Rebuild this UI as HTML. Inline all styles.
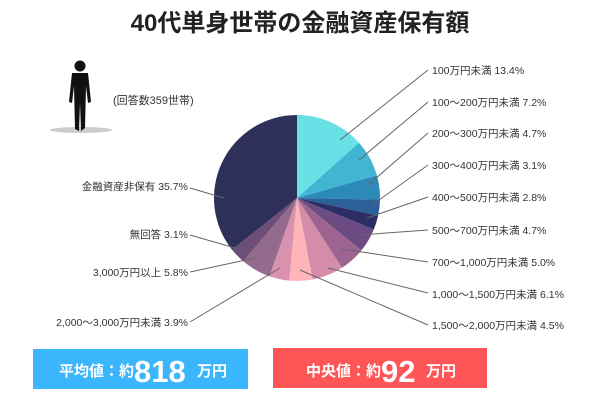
<!DOCTYPE html>
<html><head><meta charset="utf-8"><style>
body{margin:0;width:600px;height:400px;background:#fff;overflow:hidden;font-family:"Liberation Sans","Noto Sans CJK JP",sans-serif}
</style></head><body>
<svg width="600" height="400" viewBox="0 0 600 400" xmlns="http://www.w3.org/2000/svg" font-family="Liberation Sans, Noto Sans CJK JP, sans-serif">
<text x="300" y="31" text-anchor="middle" font-size="24" font-weight="bold" fill="#222">40代単身世帯の金融資産保有額</text>
<ellipse cx="81" cy="130" rx="31" ry="3" fill="#ccc"/>
<g fill="#111">
<circle cx="80" cy="66" r="5.5"/>
<path d="M72 73 L88 73 L91 102 L88 103 L86 86 L85 128 L81 131 L80 103 L79 131 L75 129 L74 86 L72 103 L69 102 Z"/>
</g>
<text x="113" y="104" font-size="11" fill="#333">(回答数359世帯)</text>
<g id="pie"></g>
<g stroke="#666" stroke-width="1">
<line x1="340" y1="140" x2="428" y2="70"/>
<line x1="359" y1="160" x2="428" y2="102"/>
<line x1="367" y1="186" x2="428" y2="133"/>
<line x1="372" y1="205" x2="428" y2="165"/>
<line x1="367" y1="218" x2="428" y2="197"/>
<line x1="359" y1="235" x2="428" y2="230"/>
<line x1="342" y1="249" x2="428" y2="262"/>
<line x1="328" y1="268" x2="428" y2="293"/>
<line x1="300" y1="270" x2="428" y2="325"/>
<line x1="280" y1="268" x2="190" y2="322"/>
<line x1="255" y1="258" x2="190" y2="272"/>
<line x1="235" y1="248" x2="190" y2="235"/>
<line x1="224" y1="198" x2="190" y2="188"/>
</g>
<g font-size="10.5" fill="#333" font-family="Liberation Sans Narrow, Liberation Sans, Noto Sans CJK JP, sans-serif">
<text x="432" y="74">100万円未満 13.4%</text>
<text x="432" y="106">100～200万円未満 7.2%</text>
<text x="432" y="137">200～300万円未満 4.7%</text>
<text x="432" y="169">300～400万円未満 3.1%</text>
<text x="432" y="201">400～500万円未満 2.8%</text>
<text x="432" y="234">500～700万円未満 4.7%</text>
<text x="432" y="266">700～1,000万円未満 5.0%</text>
<text x="432" y="298">1,000～1,500万円未満 6.1%</text>
<text x="432" y="329">1,500～2,000万円未満 4.5%</text>
</g>
<g font-size="10.5" fill="#333" text-anchor="end" font-family="Liberation Sans Narrow, Liberation Sans, Noto Sans CJK JP, sans-serif">
<text x="188" y="190">金融資産非保有 35.7%</text>
<text x="188" y="238">無回答 3.1%</text>
<text x="188" y="276">3,000万円以上 5.8%</text>
<text x="188" y="326">2,000～3,000万円未満 3.9%</text>
</g>
<rect x="33" y="349" width="215" height="40" fill="#3bb5fb"/>
<rect x="273" y="348" width="214" height="40" fill="#fe5656"/>
<g fill="#fff" font-weight="bold">
<text x="59" y="376" font-size="15">平均値：約</text>
<text x="134" y="382" font-size="31">818</text>
<text x="197" y="376" font-size="15">万円</text>
<text x="306" y="376" font-size="15">中央値：約</text>
<text x="381" y="382" font-size="31">92</text>
<text x="426" y="376" font-size="15">万円</text>
</g>
</svg>
<script>
var v=[13.4,7.2,4.7,3.1,2.8,4.7,5.0,6.1,4.5,3.9,5.8,3.1,35.7];
var c=["#67e0e6","#40b6d2","#2b8ab8","#2c6098","#2c2f66","#6c4a82","#9d6391","#d48ca9","#ffb4ba","#d992ad","#946a8d","#6d4e78","#2f305a"];
var cx=297,cy=198,r=83,a=0,s="";
for(var i=0;i<v.length;i++){var a2=a+v[i]/100*2*Math.PI;
var x1=cx+r*Math.sin(a),y1=cy-r*Math.cos(a),x2=cx+r*Math.sin(a2),y2=cy-r*Math.cos(a2);
s+='<path d="M'+cx+' '+cy+' L'+x1+' '+y1+' A'+r+' '+r+' 0 '+(v[i]>50?1:0)+' 1 '+x2+' '+y2+' Z" fill="'+c[i]+'"/>';a=a2;}
document.getElementById("pie").innerHTML=s;
</script>
</body></html>
